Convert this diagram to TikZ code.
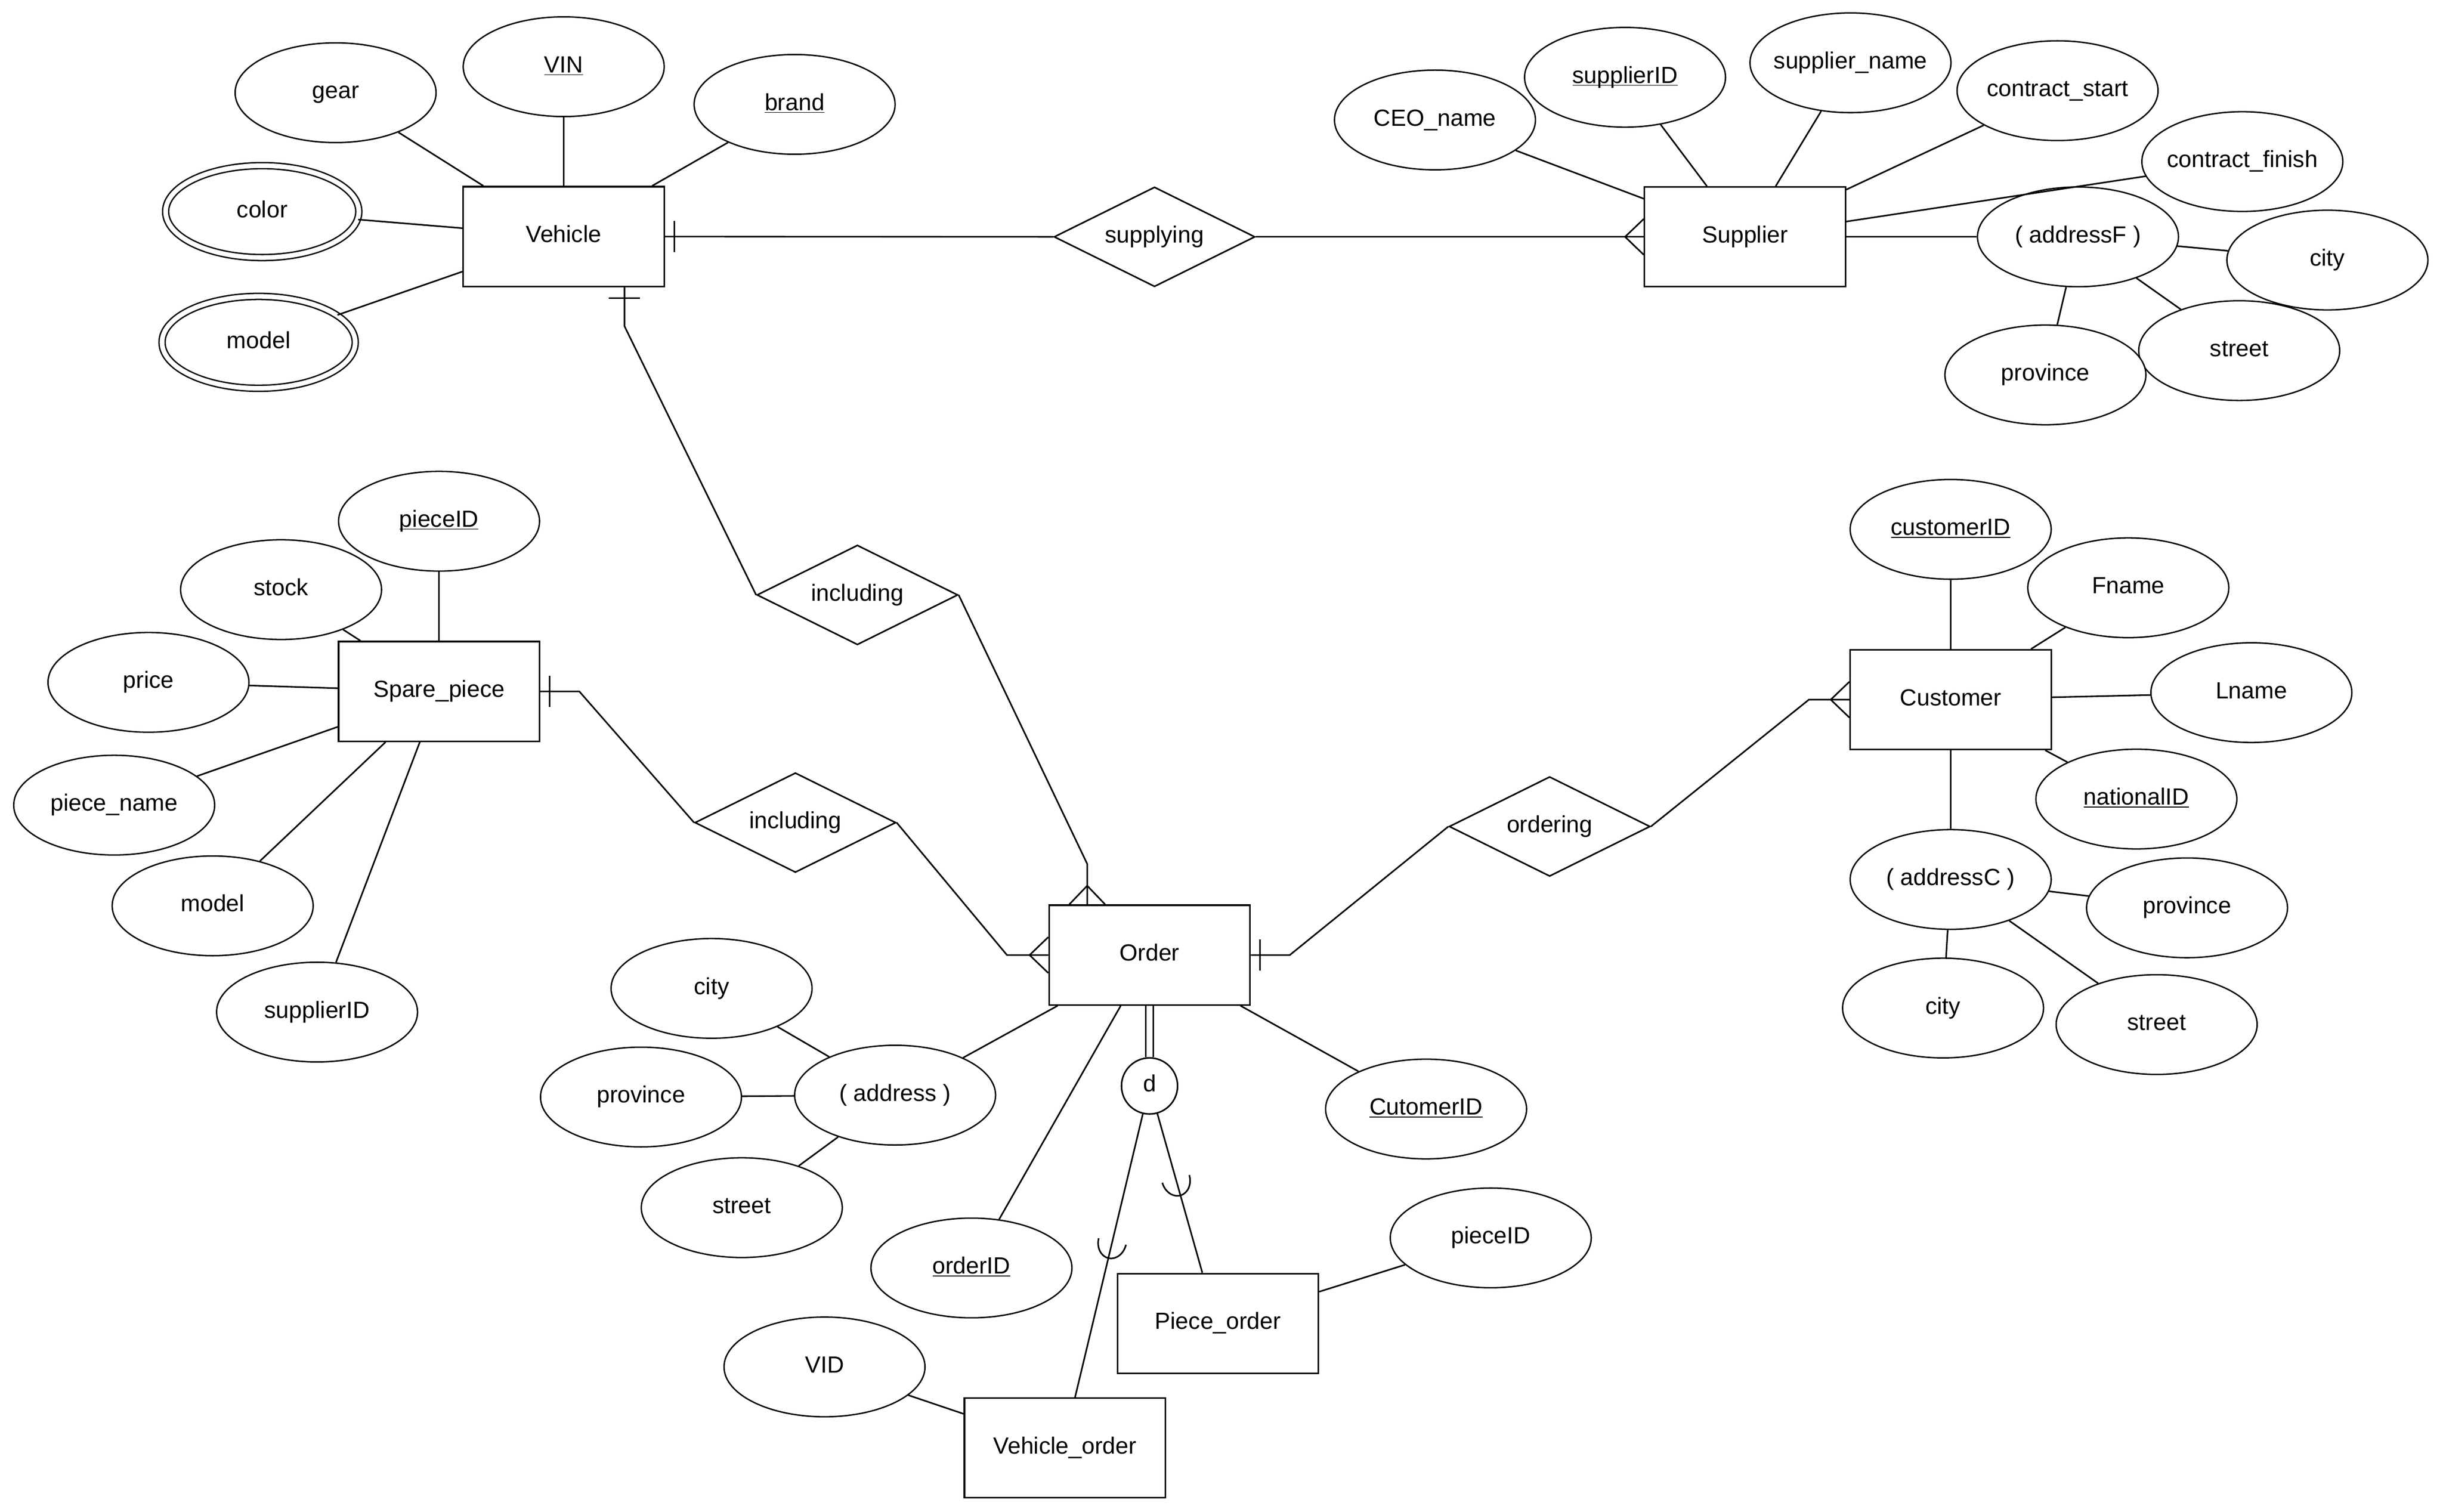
\documentclass[tikz,border=0pt]{standalone}
\usepackage{fontspec}
\setmainfont{Liberation Sans}
\usetikzlibrary{shapes.geometric, positioning}
\tikzstyle{every node}=[font=\fontsize{15}{18}\selectfont, text height=11pt, text depth=3.5pt]
\tikzstyle{entity}=[draw, fill=white, rectangle, minimum width=129pt, minimum height=64pt, inner sep=0pt]
\tikzstyle{attr}=[draw, fill=white, ellipse, line width=0.9pt, minimum width=129pt, minimum height=64pt, inner sep=0pt, inner xsep=-20pt]
\tikzstyle{multi}=[attr, double, double distance=3pt, minimum width=124pt, minimum height=59pt]
\tikzstyle{rel}=[draw, fill=white, diamond, aspect=2, minimum width=129pt, minimum height=64pt, inner sep=0pt]
\tikzstyle{disj}=[draw, fill=white, circle, minimum size=36pt, inner sep=0pt]
\newcommand{\pk}[1]{\underline{\smash{#1}}}

\begin{document}
\begin{tikzpicture}[x=1pt, y=-1pt, line width=1pt]
  \useasboundingbox (0,0) rectangle (1568,970.3);
  \node[entity] (vehicle) at (361.8,151.8) {Vehicle};
  \node[entity] (supplier) at (1120,152) {Supplier};
  \node[entity] (spare) at (281.8,443.7) {Spare\_piece};
  \node[entity] (customer) at (1252,449) {Customer};
  \node[entity] (order) at (737.8,612.9) {Order};
  \node[entity] (porder) at (781.7,849.3) {Piece\_order};
  \node[entity] (vorder) at (683.5,929.2) {Vehicle\_order};
  \node[rel] (supplying) at (741,152) {supplying};
  \node[rel] (incV) at (550.3,381.8) {including};
  \node[rel] (incP) at (510.5,527.9) {including};
  \node[rel] (ordering) at (994.6,530.4) {ordering};
  \node[disj, below of=order, node distance=84pt] (d) {d};

  \node[attr] (gear) at (215.4,59.5) {gear};
  \node[attr, above of=vehicle, node distance=109pt] (vin) {\pk{VIN}};
  \node[attr] (brand) at (510,67) {\pk{brand}};
  \node[multi] (color) at (168.3,135.8) {color};
  \node[multi] (vmodel) at (166,219.7) {model};

  \node[attr] (ceo) at (921,77) {CEO\_name};
  \node[attr] (supID) at (1043,49.6) {\pk{supplierID}};
  \node[attr] (supname) at (1187.7,40.3) {supplier\_name};
  \node[attr] (cstart) at (1320.6,58.2) {contract\_start};
  \node[attr] (cfinish) at (1439.2,103.7) {contract\_finish};
  \node[attr, right of=supplier, node distance=213.7pt] (addrF) {( addressF )};
  \node[attr] (fcity) at (1493.8,166.9) {city};
  \node[attr] (fstreet) at (1437.2,225) {street};
  \node[attr] (fprov) at (1312.8,240.6) {province};

  \node[attr, above of=spare, node distance=109.2pt] (pid) {\pk{pieceID}};
  \node[attr] (stock) at (180.4,378.4) {stock};
  \node[attr] (price) at (95.3,437.9) {price};
  \node[attr] (pname) at (73.3,516.7) {piece\_name};
  \node[attr] (pmodel) at (136.5,581.3) {model};
  \node[attr] (psup) at (203.5,649.5) {supplierID};

  \node[attr, above of=customer, node distance=109.3pt] (cid) {\pk{customerID}};
  \node[attr] (fname) at (1366,377.2) {Fname};
  \node[attr] (lname) at (1445,444.5) {Lname};
  \node[attr] (nid) at (1371.2,512.8) {\pk{nationalID}};
  \node[attr, below of=customer, node distance=115.4pt] (addrC) {( addressC )};
  \node[attr] (cprov) at (1403.7,582.6) {province};
  \node[attr] (ccity) at (1247.1,646.9) {city};
  \node[attr] (cstreet) at (1384.2,657.5) {street};

  \node[attr] (ocid) at (915.3,711.7) {\pk{CutomerID}};
  \node[attr] (oid) at (623.5,813.7) {\pk{orderID}};
  \node[attr] (addr) at (574.5,702.8) {( address )};
  \node[attr] (ocity) at (456.7,634.3) {city};
  \node[attr] (oprov) at (411.4,704) {province};
  \node[attr] (ostreet) at (476.1,775) {street};
  \node[attr] (opiece) at (956.8,794.4) {pieceID};
  \node[attr] (vid) at (529.2,877.2) {VID};

  \draw (gear) -- (vehicle);
  \draw (vin) -- (vehicle);
  \draw (brand) -- (vehicle);
  \draw (color) -- (vehicle);
  \draw (vmodel) -- (vehicle);
  \draw (ceo) -- (supplier);
  \draw (supID) -- (supplier);
  \draw (supname) -- (supplier);
  \draw (cstart) -- (supplier);
  \draw (cfinish) -- (supplier);
  \draw (addrF) -- (supplier);
  \draw (fcity) -- (addrF);
  \draw (fstreet) -- (addrF);
  \draw (fprov) -- (addrF);
  \draw (pid) -- (spare);
  \draw (stock) -- (spare);
  \draw (price) -- (spare);
  \draw (pname) -- (spare);
  \draw (pmodel) -- (spare);
  \draw (psup) -- (spare);
  \draw (cid) -- (customer);
  \draw (fname) -- (customer);
  \draw (lname) -- (customer);
  \draw (nid) -- (customer);
  \draw (addrC) -- (customer);
  \draw (cprov) -- (addrC);
  \draw (ccity) -- (addrC);
  \draw (cstreet) -- (addrC);
  \draw (ocid) -- (order);
  \draw (oid) -- (order);
  \draw (addr) -- (order);
  \draw (ocity) -- (addr);
  \draw (oprov) -- (addr);
  \draw (ostreet) -- (addr);
  \draw (opiece) -- (porder);
  \draw (vid) -- (vorder);

  \draw (vehicle.east) -- (supplying.west);
  \draw ([xshift=6pt]vehicle.east) ++(0,-10) -- ++(0,20);
  \draw (supplying.east) -- (supplier.west);
  \draw ([yshift=11.5pt]supplier.west) -- ([xshift=-12pt]supplier.west) -- ([yshift=-11.5pt]supplier.west);

  \draw ([xshift=39pt]vehicle.south) -- ++(0,25) -- (incV.west);
  \draw ([xshift=29pt,yshift=-7pt]vehicle.south) -- ++(20,0);
  \draw (incV.east) -- ([xshift=-40pt,yshift=26pt]order.north) -- ([xshift=-40pt]order.north);
  \draw ([xshift=-51.5pt]order.north) -- ([xshift=-40pt,yshift=12pt]order.north) -- ([xshift=-28.5pt]order.north);

  \draw (spare.east) -- ++(25,0) -- (incP.west);
  \draw ([xshift=6pt]spare.east) ++(0,-10) -- ++(0,20);
  \draw (incP.east) -- ([xshift=-26.5pt]order.west) -- (order.west);
  \draw ([yshift=11.5pt]order.west) -- ([xshift=-12pt]order.west) -- ([yshift=-11.5pt]order.west);

  \draw (order.east) -- ++(25,0) -- (ordering.west);
  \draw ([xshift=6pt]order.east) ++(0,-10) -- ++(0,20);
  \draw (ordering.east) -- ([xshift=-26pt]customer.west) -- (customer.west);
  \draw ([yshift=11.5pt]customer.west) -- ([xshift=-12pt]customer.west) -- ([yshift=-11.5pt]customer.west);

  \draw[double, double distance=4pt] (order.south) -- (d.north);
  \draw (d) -- coordinate[pos=0.45] (cupV) ([xshift=6.5pt]vorder.north);
  \draw (d) -- coordinate[pos=0.41] (cupP) ([xshift=-10pt]porder.north);
  \draw[shift={(cupV)}, rotate=-13.4] (-9pt,0pt) arc[start angle=180, end angle=360, x radius=9pt, y radius=11pt];
  \draw[shift={(cupP)}, rotate=15.9] (-9pt,0pt) arc[start angle=180, end angle=360, x radius=9pt, y radius=11pt];
\end{tikzpicture}
\end{document}
